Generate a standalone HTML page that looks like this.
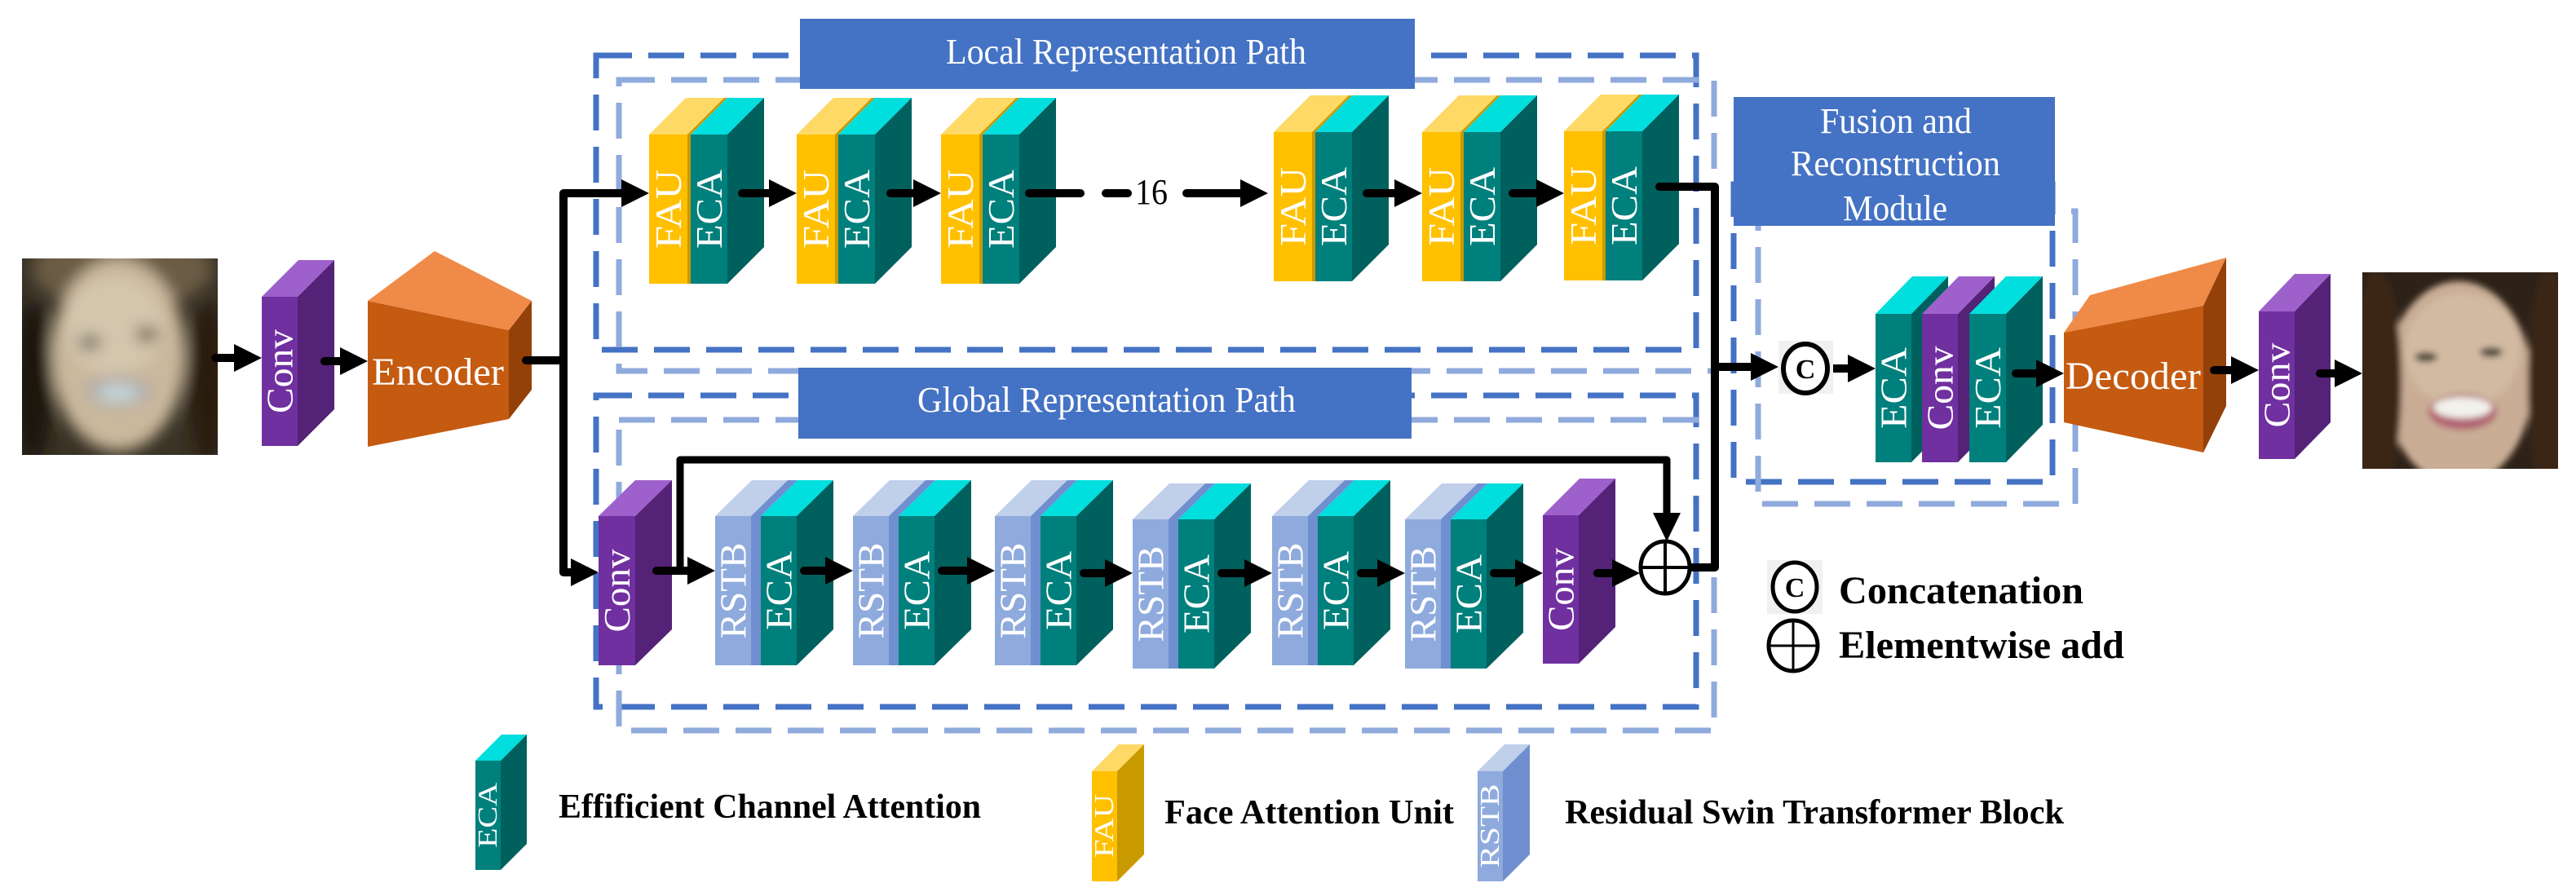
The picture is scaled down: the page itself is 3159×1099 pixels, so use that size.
<!DOCTYPE html>
<html><head><meta charset="utf-8"><style>
html,body{margin:0;padding:0;background:#fff;}
svg{display:block;}
text{font-family:"Liberation Serif",serif;}
</style></head><body>
<svg width="3159" height="1099" viewBox="0 0 3159 1099" xmlns="http://www.w3.org/2000/svg">
<defs>
<filter id="bl" x="-20%" y="-20%" width="140%" height="140%"><feGaussianBlur stdDeviation="9"/></filter>
<filter id="bl2" x="-20%" y="-20%" width="140%" height="140%"><feGaussianBlur stdDeviation="4"/></filter>
<clipPath id="cf1"><rect x="27" y="317" width="240" height="241"/></clipPath>
<clipPath id="cf2"><rect x="2897" y="334" width="240" height="241"/></clipPath>
</defs>
<rect width="3159" height="1099" fill="#fff"/>

<!-- dashed boxes -->
<g fill="none" stroke-width="7">
<rect x="731" y="68" width="1349" height="361" stroke="#4472c4" stroke-dasharray="44 20"/>
<rect x="759" y="98" width="1343" height="357" stroke="#8faadc" stroke-dasharray="44 20"/>
<rect x="731" y="485" width="1349" height="382" stroke="#4472c4" stroke-dasharray="44 20"/>
<rect x="759" y="515" width="1343" height="381" stroke="#8faadc" stroke-dasharray="44 20"/>
<rect x="2126" y="226" width="391" height="365" stroke="#4472c4" stroke-dasharray="44 20"/>
<rect x="2156" y="259" width="389" height="359" stroke="#8faadc" stroke-dasharray="44 20"/>
</g>

<!-- title boxes -->
<rect x="981" y="23" width="754" height="86" fill="#4472c4"/>
<text x="1160" y="78" font-size="44" fill="#fff" textLength="442" lengthAdjust="spacingAndGlyphs">Local Representation Path</text>
<rect x="979" y="451" width="752" height="87" fill="#4472c4"/>
<text x="1125" y="505" font-size="44" fill="#fff" textLength="464" lengthAdjust="spacingAndGlyphs">Global Representation Path</text>
<rect x="2126" y="119" width="394" height="158" fill="#4472c4"/>
<text x="2232" y="163" font-size="44" fill="#fff" textLength="186" lengthAdjust="spacingAndGlyphs">Fusion and</text>
<text x="2196" y="215" font-size="44" fill="#fff" textLength="257" lengthAdjust="spacingAndGlyphs">Reconstruction</text>
<text x="2260" y="270" font-size="44" fill="#fff" textLength="128" lengthAdjust="spacingAndGlyphs">Module</text>

<!-- faces -->
<g clip-path="url(#cf1)">
<rect x="27" y="317" width="240" height="241" fill="#3a3326"/>
<g filter="url(#bl)">
<ellipse cx="150" cy="330" rx="110" ry="50" fill="#6b5c45"/>
<ellipse cx="145" cy="435" rx="82" ry="118" fill="#c9b89c"/>
<ellipse cx="140" cy="400" rx="60" ry="60" fill="#d4c6ad"/>
<ellipse cx="40" cy="470" rx="25" ry="100" fill="#1c1710"/>
<ellipse cx="255" cy="470" rx="25" ry="100" fill="#2a1c10"/>
<ellipse cx="110" cy="420" rx="14" ry="9" fill="#6b6a60"/>
<ellipse cx="180" cy="410" rx="14" ry="9" fill="#6b5a4a"/>
<ellipse cx="145" cy="480" rx="40" ry="18" fill="#b0a8a8"/>
<ellipse cx="145" cy="482" rx="26" ry="9" fill="#c8dde0"/>
</g>
</g>
<g clip-path="url(#cf2)">
<rect x="2897" y="334" width="240" height="241" fill="#2e2218"/>
<g filter="url(#bl2)">
<ellipse cx="3015" cy="470" rx="90" ry="125" fill="#c9ad95"/>
<ellipse cx="3020" cy="430" rx="70" ry="70" fill="#d2baa2"/>
<ellipse cx="2915" cy="470" rx="30" ry="140" fill="#3a2818"/>
<ellipse cx="3125" cy="470" rx="25" ry="140" fill="#3a2818"/>
<ellipse cx="2975" cy="438" rx="14" ry="6" fill="#4a4a3a"/>
<ellipse cx="3055" cy="432" rx="14" ry="6" fill="#4a4a3a"/>
<ellipse cx="3020" cy="505" rx="42" ry="22" fill="#b06070"/>
<ellipse cx="3020" cy="500" rx="36" ry="13" fill="#f2f2ea"/>
</g>
</g>

<!-- left conv -->
<g transform="translate(321,364)">
<rect width="44" height="183" fill="#7030a0"/>
<polygon points="0,0 45,-45 89,-45 44,0" fill="#9e61cc"/>
<polygon points="44,0 89,-45 89,138 44,183" fill="#542277"/>
<text transform="translate(22,91.5) rotate(-90)" text-anchor="middle" dominant-baseline="central" font-size="46" fill="#fff" textLength="103" lengthAdjust="spacingAndGlyphs">Conv</text>
</g>
<!-- encoder -->
<polygon points="451,369 624,405 624,514 451,548" fill="#c55a11"/>
<polygon points="451,369 533,308 652,369 624,405" fill="#f08a48"/>
<polygon points="624,405 652,369 652,478 624,514" fill="#944009"/>
<text x="456" y="472" font-size="48" fill="#fff" textLength="162" lengthAdjust="spacingAndGlyphs">Encoder</text>

<!-- local blocks -->
<g id="lp1" transform="translate(796,165)">
<rect width="47" height="183" fill="#ffc000"/>
<polygon points="0,0 45,-45 92,-45 47,0" fill="#ffd966"/>
<rect x="47" width="4" height="183" fill="#c99a00"/>
<polygon points="47,0 92,-45 96,-45 51,0" fill="#c99a00"/>
<rect x="51" width="45" height="183" fill="#00807c"/>
<polygon points="51,0 96,-45 141,-45 96,0" fill="#00dede"/>
<polygon points="96,0 141,-45 141,138 96,183" fill="#00605e"/>
<text transform="translate(23.5,91.5) rotate(-90)" text-anchor="middle" dominant-baseline="central" font-size="46" fill="#fff" textLength="97" lengthAdjust="spacingAndGlyphs">FAU</text>
<text transform="translate(73.5,91.5) rotate(-90)" text-anchor="middle" dominant-baseline="central" font-size="46" fill="#fff" textLength="97" lengthAdjust="spacingAndGlyphs">ECA</text>
</g>
<use href="#lp1" transform="translate(181,0)"/>
<use href="#lp1" transform="translate(358,0)"/>
<use href="#lp1" transform="translate(766,-3)"/>
<use href="#lp1" transform="translate(948,-3)"/>
<use href="#lp1" transform="translate(1122,-4)"/>

<!-- global blocks -->
<g transform="translate(734,633)">
<rect width="45" height="183" fill="#7030a0"/>
<polygon points="0,0 45,-44 90,-44 45,0" fill="#9e61cc"/>
<polygon points="45,0 90,-44 90,139 45,183" fill="#542277"/>
<text transform="translate(22.5,91.5) rotate(-90)" text-anchor="middle" dominant-baseline="central" font-size="46" fill="#fff" textLength="102" lengthAdjust="spacingAndGlyphs">Conv</text>
</g>
<g id="gp1" transform="translate(877,633)">
<rect width="44" height="183" fill="#8faadc"/>
<polygon points="0,0 45,-44 89,-44 44,0" fill="#c0cfea"/>
<rect x="44" width="12" height="183" fill="#6f8fd0"/>
<polygon points="44,0 89,-44 101,-44 56,0" fill="#6f8fd0"/>
<rect x="56" width="44" height="183" fill="#00807c"/>
<polygon points="56,0 101,-44 145,-44 100,0" fill="#00dede"/>
<polygon points="100,0 145,-44 145,139 100,183" fill="#00605e"/>
<text transform="translate(22,91.5) rotate(-90)" text-anchor="middle" dominant-baseline="central" font-size="46" fill="#fff" textLength="118" lengthAdjust="spacingAndGlyphs">RSTB</text>
<text transform="translate(78,91.5) rotate(-90)" text-anchor="middle" dominant-baseline="central" font-size="46" fill="#fff" textLength="97" lengthAdjust="spacingAndGlyphs">ECA</text>
</g>
<use href="#gp1" transform="translate(169,0)"/>
<use href="#gp1" transform="translate(343,0)"/>
<use href="#gp1" transform="translate(512,4)"/>
<use href="#gp1" transform="translate(683,0)"/>
<use href="#gp1" transform="translate(846,4)"/>
<g transform="translate(1892,632)">
<rect width="44" height="182" fill="#7030a0"/>
<polygon points="0,0 45,-45 89,-45 44,0" fill="#9e61cc"/>
<polygon points="44,0 89,-45 89,137 44,182" fill="#542277"/>
<text transform="translate(22,91) rotate(-90)" text-anchor="middle" dominant-baseline="central" font-size="46" fill="#fff" textLength="102" lengthAdjust="spacingAndGlyphs">Conv</text>
</g>

<!-- fusion blocks -->
<g transform="translate(2300,385)">
<rect width="44" height="182" fill="#00807c"/>
<polygon points="0,0 45,-46 89,-46 44,0" fill="#00dede"/>
<polygon points="44,0 89,-46 89,136 44,182" fill="#00605e"/>
<text transform="translate(22,91) rotate(-90)" text-anchor="middle" dominant-baseline="central" font-size="46" fill="#fff" textLength="100" lengthAdjust="spacingAndGlyphs">ECA</text>
</g>
<g transform="translate(2357,385)">
<rect width="44" height="182" fill="#7030a0"/>
<polygon points="0,0 45,-46 89,-46 44,0" fill="#9e61cc"/>
<polygon points="44,0 89,-46 89,136 44,182" fill="#542277"/>
<text transform="translate(22,91) rotate(-90)" text-anchor="middle" dominant-baseline="central" font-size="46" fill="#fff" textLength="103" lengthAdjust="spacingAndGlyphs">Conv</text>
</g>
<g transform="translate(2415,385)">
<rect width="45" height="182" fill="#00807c"/>
<polygon points="0,0 45,-46 90,-46 45,0" fill="#00dede"/>
<polygon points="45,0 90,-46 90,136 45,182" fill="#00605e"/>
<text transform="translate(22.5,91) rotate(-90)" text-anchor="middle" dominant-baseline="central" font-size="46" fill="#fff" textLength="100" lengthAdjust="spacingAndGlyphs">ECA</text>
</g>

<!-- decoder -->
<polygon points="2531,408 2702,375 2702,555 2531,518" fill="#c55a11"/>
<polygon points="2531,408 2563,362 2730,316 2702,375" fill="#f08a48"/>
<polygon points="2702,375 2730,316 2730,498 2702,555" fill="#944009"/>
<text x="2533" y="477" font-size="48" fill="#fff" textLength="166" lengthAdjust="spacingAndGlyphs">Decoder</text>

<!-- right conv -->
<g transform="translate(2770,382)">
<rect width="44" height="181" fill="#7030a0"/>
<polygon points="0,0 44,-46 88,-46 44,0" fill="#9e61cc"/>
<polygon points="44,0 88,-46 88,136 44,181" fill="#542277"/>
<text transform="translate(22,90.5) rotate(-90)" text-anchor="middle" dominant-baseline="central" font-size="46" fill="#fff" textLength="104" lengthAdjust="spacingAndGlyphs">Conv</text>
</g>

<!-- connectors -->
<g stroke="#000" stroke-width="10" fill="none" stroke-linecap="round" stroke-linejoin="round">
<path d="M264 439 H292"/>
<path d="M398 443 H420"/>
<path d="M645 442 H691"/>
<path d="M766 237 H691 V702 H705"/>
<path d="M910 237 H945"/>
<path d="M1092 237 H1122"/>
<path d="M1262 237 H1325"/>
<path d="M1356 237 H1383"/>
<path d="M1455 237 H1522"/>
<path d="M1676 237 H1712"/>
<path d="M1855 237 H1886"/>
<path d="M2035 229 H2103 V696 H2073"/>
<path d="M2103 450 H2150"/>
<path d="M2248 452 H2268"/>
<path d="M2472 458 H2500"/>
<path d="M2715 454 H2738"/>
<path d="M2845 458 H2865"/>
<path d="M805 700 H845"/>
<path d="M986 700 H1014"/>
<path d="M1155 700 H1188"/>
<path d="M1329 703 H1357"/>
<path d="M1498 703 H1528"/>
<path d="M1669 703 H1691"/>
<path d="M1832 703 H1860"/>
<path d="M1959 703 H1979"/>
</g>
<path d="M834 700 V564 H2044 V632" stroke="#000" stroke-width="9" fill="none" stroke-linejoin="round"/>
<g fill="#000">
<polygon points="321,439 287,422 287,456"/>
<polygon points="451,443 417,426 417,460"/>
<polygon points="796,237 762,220 762,254"/>
<polygon points="734,702 700,685 700,719"/>
<polygon points="977,237 943,220 943,254"/>
<polygon points="1154,237 1120,220 1120,254"/>
<polygon points="1555,237 1521,220 1521,254"/>
<polygon points="1744,237 1710,220 1710,254"/>
<polygon points="1918,237 1884,220 1884,254"/>
<polygon points="877,700 843,683 843,717"/>
<polygon points="1046,700 1012,683 1012,717"/>
<polygon points="1220,700 1186,683 1186,717"/>
<polygon points="1389,703 1355,686 1355,720"/>
<polygon points="1560,703 1526,686 1526,720"/>
<polygon points="1723,703 1689,686 1689,720"/>
<polygon points="1892,703 1858,686 1858,720"/>
<polygon points="2011,703 1977,686 1977,720"/>
<polygon points="2044,664 2027,629 2061,629"/>
<polygon points="2181,450 2147,433 2147,467"/>
<polygon points="2300,452 2266,435 2266,469"/>
<polygon points="2531,458 2497,441 2497,475"/>
<polygon points="2770,454 2736,437 2736,471"/>
<polygon points="2897,458 2863,441 2863,475"/>
</g>
<text x="1392" y="250" font-size="44" fill="#000" textLength="40" lengthAdjust="spacingAndGlyphs">16</text>

<!-- concat symbol -->
<rect x="2181" y="418" width="67" height="65" fill="#f0f0f0"/>
<ellipse cx="2214" cy="452" rx="27" ry="30" fill="#fff" stroke="#000" stroke-width="6"/>
<text x="2214" y="464" font-size="34" font-weight="bold" text-anchor="middle" fill="#000">C</text>
<!-- plus symbol -->
<ellipse cx="2042" cy="696" rx="30" ry="32" fill="#fff" stroke="#000" stroke-width="5"/>
<path d="M2014 696 H2070 M2042 666 V726" stroke="#000" stroke-width="4"/>

<!-- legend symbols -->
<rect x="2167" y="687" width="68" height="66" fill="#f0f0f0"/>
<ellipse cx="2201" cy="720" rx="27" ry="30" fill="#fff" stroke="#000" stroke-width="5"/>
<text x="2201" y="732" font-size="34" font-weight="bold" text-anchor="middle" fill="#000">C</text>
<text x="2255" y="740" font-size="48" font-weight="bold" fill="#000" textLength="300" lengthAdjust="spacingAndGlyphs">Concatenation</text>
<ellipse cx="2199" cy="792" rx="30" ry="31" fill="#fff" stroke="#000" stroke-width="5"/>
<path d="M2171 792 H2227 M2199 763 V821" stroke="#000" stroke-width="3"/>
<text x="2255" y="807" font-size="48" font-weight="bold" fill="#000" textLength="350" lengthAdjust="spacingAndGlyphs">Elementwise add</text>

<!-- bottom legend -->
<g transform="translate(583,933)">
<rect width="31" height="134" fill="#00807c"/>
<polygon points="0,0 32,-32 63,-32 31,0" fill="#00dede"/>
<polygon points="31,0 63,-32 63,102 31,134" fill="#00605e"/>
<text transform="translate(15.5,67) rotate(-90)" text-anchor="middle" dominant-baseline="central" font-size="34" fill="#fff" textLength="80" lengthAdjust="spacingAndGlyphs">ECA</text>
</g>
<text x="685" y="1003" font-size="42" font-weight="bold" fill="#000" textLength="518" lengthAdjust="spacingAndGlyphs">Effificient Channel Attention</text>
<g transform="translate(1339,946)">
<rect width="31" height="135" fill="#ffc000"/>
<polygon points="0,0 33,-33 64,-33 31,0" fill="#ffd966"/>
<polygon points="31,0 64,-33 64,102 31,135" fill="#c99a00"/>
<text transform="translate(15.5,67) rotate(-90)" text-anchor="middle" dominant-baseline="central" font-size="34" fill="#fff" textLength="78" lengthAdjust="spacingAndGlyphs">FAU</text>
</g>
<text x="1428" y="1010" font-size="42" font-weight="bold" fill="#000" textLength="355" lengthAdjust="spacingAndGlyphs">Face Attention Unit</text>
<g transform="translate(1812,946)">
<rect width="31" height="135" fill="#8faadc"/>
<polygon points="0,0 33,-33 64,-33 31,0" fill="#c0cfea"/>
<polygon points="31,0 64,-33 64,102 31,135" fill="#6f8fd0"/>
<text transform="translate(15.5,67) rotate(-90)" text-anchor="middle" dominant-baseline="central" font-size="34" fill="#fff" textLength="103" lengthAdjust="spacingAndGlyphs">RSTB</text>
</g>
<text x="1919" y="1010" font-size="42" font-weight="bold" fill="#000" textLength="612" lengthAdjust="spacingAndGlyphs">Residual Swin Transformer Block</text>
</svg>
</body></html>
